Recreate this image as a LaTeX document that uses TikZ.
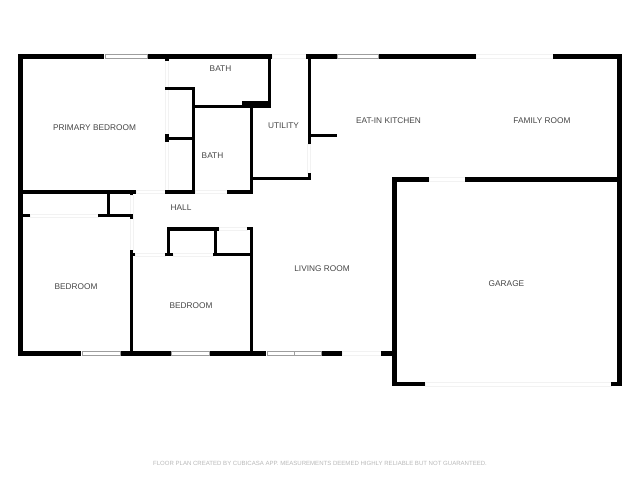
\documentclass[tikz,border=0pt]{standalone}
\usepackage{fontspec}
\setmainfont{Liberation Sans}
\usepackage{xcolor}
\usepackage{tikz}
\definecolor{labelgray}{gray}{0.27}
\definecolor{notegray}{gray}{0.72}
\definecolor{panegray}{gray}{0.62}
\definecolor{palegray}{gray}{0.95}
\tikzset{
    wall/.style={fill=black},
    window/.style={draw=panegray, line width=0.6pt, fill=white},
    opening/.style={draw=palegray, line width=0.6pt, fill=white},
    roomlabel/.style={text=labelgray, font=\fontsize{8.3}{10}\selectfont, inner sep=0pt},
    notelabel/.style={text=notegray, font=\fontsize{6.05}{7}\selectfont, inner sep=0pt}
}

\begin{document}
\begin{tikzpicture}[x=1pt, y=-1pt]
    \useasboundingbox (0,0) rectangle (640,480);

    \draw[opening] (272,54.5) rectangle (306,58.5);
    \draw[opening] (476,54.5) rectangle (553,58.5);
    \draw[opening] (165.5,60) rectangle (168.5,190);
    \draw[opening] (307.5,144) rectangle (310.5,173);
    \draw[opening] (136,190.5) rectangle (165,193.5);
    \draw[opening] (195,190.5) rectangle (227,193.5);
    \draw[opening] (30,214.5) rectangle (98,217);
    \draw[opening] (130.5,195) rectangle (133.5,250);
    \draw[opening] (135,253.5) rectangle (165,256);
    \draw[opening] (173,253.5) rectangle (213,256);
    \draw[opening] (219,227.5) rectangle (247,230.5);
    \draw[opening] (429,177.5) rectangle (465,181.5);
    \draw[opening] (342,351.5) rectangle (381,355.5);
    \draw[opening] (425,382) rectangle (611,386);

    \fill[wall] (18,54) rectangle (104,59);
    \fill[wall] (148,54) rectangle (272,59);
    \fill[wall] (306,54) rectangle (337,59);
    \fill[wall] (378,54) rectangle (476,59);
    \fill[wall] (553,54) rectangle (622,59);
    \fill[wall] (18,54) rectangle (23,356);
    \fill[wall] (617,54) rectangle (622,386);
    \fill[wall] (18,351) rectangle (81,356);
    \fill[wall] (121,351) rectangle (171,356);
    \fill[wall] (210,351) rectangle (266,356);
    \fill[wall] (322,351) rectangle (342,356);
    \fill[wall] (381,351) rectangle (393,356);

    \fill[wall] (18,190) rectangle (136,194);
    \fill[wall] (107,194) rectangle (110,215);
    \fill[wall] (23,214) rectangle (30,217);
    \fill[wall] (98,214) rectangle (133,217);
    \fill[wall] (130,214) rectangle (133,219);
    \fill[wall] (130,192) rectangle (133,195);
    \fill[wall] (130,250) rectangle (133,351);
    \fill[wall] (133,253) rectangle (135,256);

    \fill[wall] (165,59) rectangle (169,60.5);
    \fill[wall] (165,87) rectangle (195,90);
    \fill[wall] (192,87) rectangle (195,194);
    \fill[wall] (165,134) rectangle (169,142);
    \fill[wall] (165,137) rectangle (192,140);
    \fill[wall] (165,190) rectangle (195,194);
    \fill[wall] (193,105) rectangle (252,108);
    \fill[wall] (242,101) rectangle (271,108);
    \fill[wall] (268,54) rectangle (271,108);
    \fill[wall] (250,105) rectangle (253,194);
    \fill[wall] (227,190) rectangle (253,194);
    \fill[wall] (250,177) rectangle (311,180);
    \fill[wall] (307.5,173) rectangle (311,180);
    \fill[wall] (307.5,54) rectangle (311,144);
    \fill[wall] (310,133.5) rectangle (337,136.5);

    \fill[wall] (165,253) rectangle (173,256);
    \fill[wall] (167,227) rectangle (170,256);
    \fill[wall] (167,227) rectangle (219,230.5);
    \fill[wall] (214,227) rectangle (217,256);
    \fill[wall] (213,253) rectangle (253,256);
    \fill[wall] (247,227) rectangle (253,230);
    \fill[wall] (249.5,227) rectangle (253,351);

    \fill[wall] (392,177) rectangle (429,182);
    \fill[wall] (465,177) rectangle (622,182);
    \fill[wall] (392,177) rectangle (397,386);
    \fill[wall] (392,382) rectangle (425,386);
    \fill[wall] (611,382) rectangle (622,386);

    \draw[window] (105,54.5) rectangle (147,58.5);
    \draw[window] (337.5,54.5) rectangle (378,58.5);
    \draw[window] (82,351.5) rectangle (120,355.5);
    \draw[window] (171.5,351.5) rectangle (209.5,355.5);
    \draw[window] (267,351.5) rectangle (294,355.5);
    \draw[window] (294,351.5) rectangle (321,355.5);

    \node[roomlabel] (primary) at (94.5,127.8) {PRIMARY BEDROOM};
    \node[roomlabel] (bathtop) at (220.5,68.8) {BATH};
    \node[roomlabel] (bathmid) at (212.5,155.8) {BATH};
    \node[roomlabel] (utility) at (283.5,125.8) {UTILITY};
    \node[roomlabel] (kitchen) at (388.5,121) {EAT-IN KITCHEN};
    \node[roomlabel] (family) at (542,120.8) {FAMILY ROOM};
    \node[roomlabel] (hall) at (181,207.8) {HALL};
    \node[roomlabel] (bedleft) at (76,286.8) {BEDROOM};
    \node[roomlabel] (bedmid) at (191,305.8) {BEDROOM};
    \node[roomlabel] (living) at (322,268.8) {LIVING ROOM};
    \node[roomlabel] (garage) at (506.5,284) {GARAGE};
    \node[notelabel] (note) at (320,463.5) {FLOOR PLAN CREATED BY CUBICASA APP. MEASUREMENTS DEEMED HIGHLY RELIABLE BUT NOT GUARANTEED.};
\end{tikzpicture}
\end{document}
